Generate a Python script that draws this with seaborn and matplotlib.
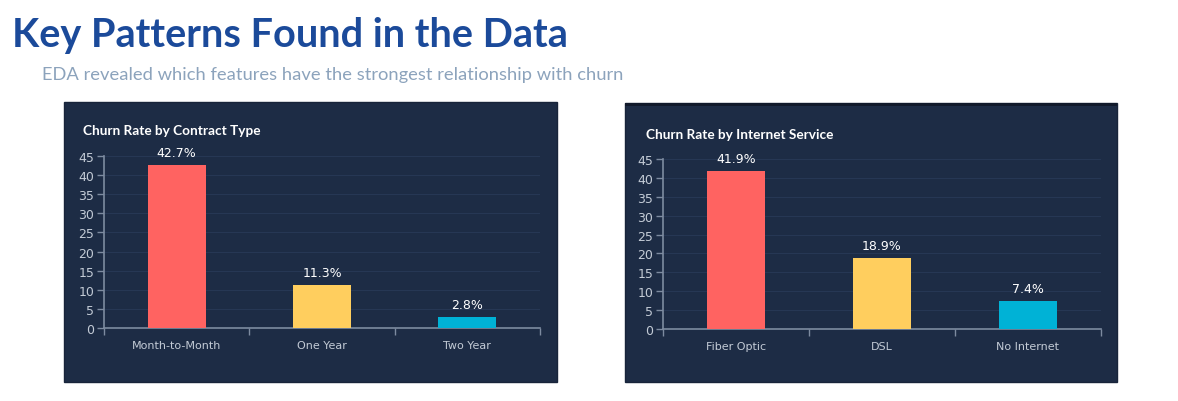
import matplotlib
matplotlib.use("Agg")
import matplotlib.pyplot as plt
from matplotlib.patches import Rectangle
import pandas as pd
import seaborn as sns

# ------------------------------------------------------------
# data
# ------------------------------------------------------------
contract_types = ["Month-to-Month", "One Year", "Two Year"]
contract_churn = [42.7, 11.3, 2.8]

internet_services = ["Fiber Optic", "DSL", "No Internet"]
internet_churn = [41.9, 18.9, 7.4]

bar_colors = ["#FF6361", "#FFCE5E", "#00B2D6"]
y_ticks = [0, 5, 10, 15, 20, 25, 30, 35, 40, 45]

W, H = 1178, 402
PANEL_BG = "#1D2C45"
GRID = "#263754"
AXIS = "#7D8BA0"
TICK_TXT = "#C3CBD6"

sns.set_theme(style="white")
plt.rcParams["font.family"] = ["Lato", "DejaVu Sans"]


def px_rect(x0, y0, x1, y1):
    # pixel box (from top-left) -> figure fraction [l, b, w, h]
    return [x0 / W, 1 - y1 / H, (x1 - x0) / W, (y1 - y0) / H]


def draw_panel(fig, box, ax_box, title, title_xy, cats, vals, top_bar):
    l, b, w, h = px_rect(*box)
    fig.patches.append(Rectangle((l, b), w, h, transform=fig.transFigure,
                                 facecolor=PANEL_BG, edgecolor="#18243A",
                                 linewidth=1.0, zorder=-5))
    if top_bar:
        # darker strip along the top edge of the panel
        fig.patches.append(Rectangle((l, b + h - 3 / H), w, 3 / H,
                                     transform=fig.transFigure,
                                     facecolor="#111A2B", edgecolor="none",
                                     zorder=-4))
    fig.text(title_xy[0] / W, 1 - title_xy[1] / H, title, color="white",
             fontsize=9.8, fontweight="bold", ha="left", va="center")

    ax = fig.add_axes(px_rect(*ax_box))
    ax.set_facecolor("none")
    df = pd.DataFrame({"cat": cats, "val": vals})
    sns.barplot(data=df, x="cat", y="val", hue="cat", palette=bar_colors,
                width=0.4, saturation=1, linewidth=0, edgecolor="none",
                legend=False, ax=ax, zorder=3)
    ax.set_xlim(-0.5, 2.5)
    ax.set_ylim(0, 45)
    ax.set_yticks(y_ticks)
    ax.set_xlabel("")
    ax.set_ylabel("")

    for yv in y_ticks[1:]:
        ax.axhline(yv, color=GRID, linewidth=0.8, zorder=1)

    for i, v in enumerate(vals):
        ax.text(i, v + 1.6, f"{v}%", ha="center", va="bottom",
                color="white", fontsize=9, family="DejaVu Sans")

    for side in ["top", "right"]:
        ax.spines[side].set_visible(False)
    for side in ["left", "bottom"]:
        ax.spines[side].set_color(AXIS)
        ax.spines[side].set_linewidth(1.2)

    ax.tick_params(axis="y", colors=AXIS, labelcolor=TICK_TXT, labelsize=9,
                   length=5, width=1, direction="out", pad=2, left=True)
    ax.tick_params(axis="x", which="major", length=0, labelcolor=TICK_TXT,
                   labelsize=8, pad=9)
    ax.set_xticks([-0.5, 0.5, 1.5, 2.5], minor=True)
    ax.tick_params(axis="x", which="minor", colors=AXIS, length=5, width=1,
                   bottom=True)
    for t in ax.get_xticklabels() + ax.get_yticklabels():
        t.set_family("DejaVu Sans")
    return ax


fig = plt.figure(figsize=(W / 100, H / 100), dpi=100)
fig.patch.set_facecolor("white")

fig.text(12 / W, 1 - 35 / H, "Key Patterns Found in the Data",
         color="#1B4A9A", fontsize=28.5, fontweight="bold", ha="left", va="center")
fig.text(42 / W, 1 - 75 / H,
         "EDA revealed which features have the strongest relationship with churn",
         color="#8CA3BC", fontsize=13.2, ha="left", va="center")

draw_panel(fig, (64, 103, 557, 383), (104, 157, 540, 329),
           "Churn Rate by Contract Type", (83, 131),
           contract_types, contract_churn, False)
draw_panel(fig, (625, 104, 1117, 383), (663, 160, 1101, 330),
           "Churn Rate by Internet Service", (646, 135),
           internet_services, internet_churn, True)

fig.savefig("out.png", dpi=100, facecolor="white")
